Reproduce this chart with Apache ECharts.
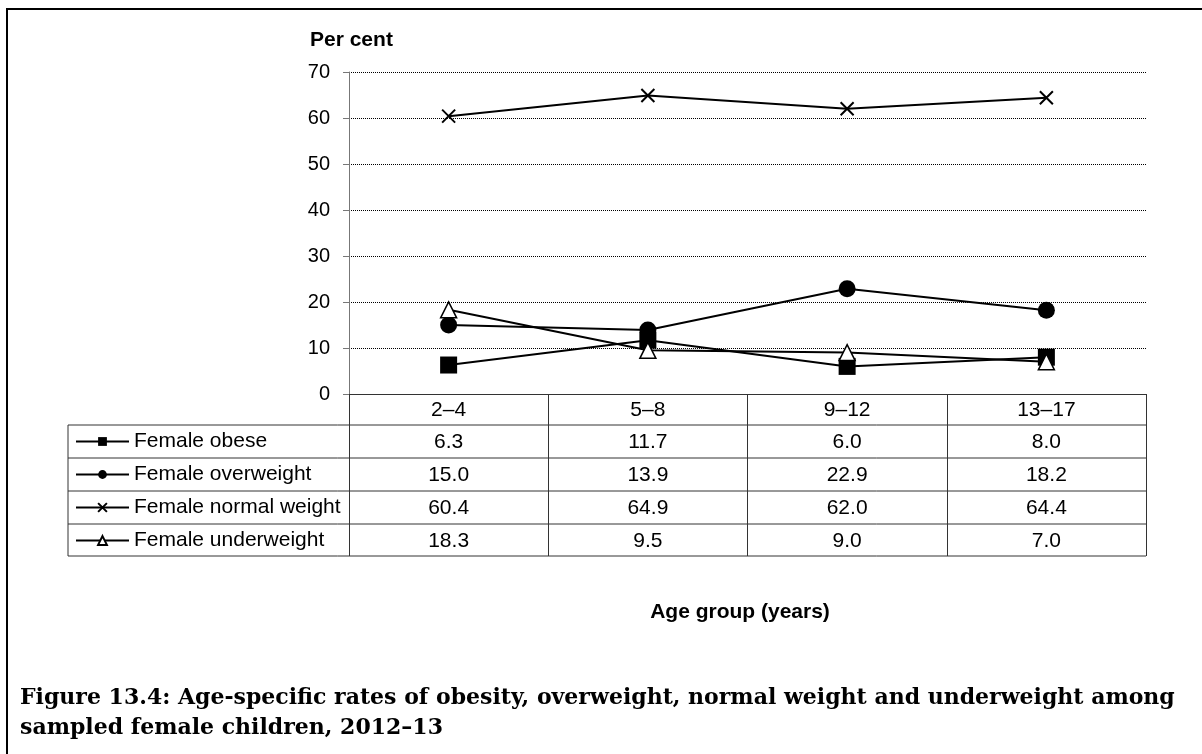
<!DOCTYPE html>
<html><head><meta charset="utf-8">
<script src="https://cdn.jsdelivr.net/npm/echarts@6/dist/echarts.min.js"></script>
<style>html,body{margin:0;padding:0;background:#fff}#c{width:1202px;height:754px}</style>
</head><body><div id="c"></div>
<script>
// ---- data ----
const categories = ['2–4', '5–8', '9–12', '13–17'];
const seriesNames = ['Female obese', 'Female overweight', 'Female normal weight', 'Female underweight'];
const obese = [6.3, 11.7, 6.0, 8.0];
const overweight = [15.0, 13.9, 22.9, 18.2];
const normalWeight = [60.4, 64.9, 62.0, 64.4];
const underweight = [18.3, 9.5, 9.0, 7.0];
const yTicks = [0, 10, 20, 30, 40, 50, 60, 70];
const yTitle = 'Per cent';
const xTitle = 'Age group (years)';
const captionLines = ['Figure 13.4: Age-specific rates of obesity, overweight, normal weight and underweight among',
                      'sampled female children, 2012–13'];

// ---- layout / style ----
const FONT = '"Liberation Sans", Arial, sans-serif';
const SERIF = '"DejaVu Serif", serif';
const FS = 21;
const seriesValues = [obese, overweight, normalWeight, underweight];
const symbols = ['rect', 'circle', 'path://M0,0L10,10M10,0L0,10', 'triangle'];
const symbolSizes = [17, 17, 13, 16];
const fills = ['#000', '#000', 'none', '#fff'];
const borderW = [0, 0, 2, 1.5];
const tableLeft = 68, rowLines = [425, 458, 491, 524, 556];

const chart = echarts.init(document.getElementById('c'));
const option = {
  animation: false,
  backgroundColor: '#fff',
  grid: { left: 349, right: 56, top: 72, bottom: 360 },
  xAxis: {
    type: 'category', data: categories, boundaryGap: true,
    axisLine: { lineStyle: { color: '#333', width: 1 } },
    axisTick: { show: true, interval: 0, length: rowLines[4] - 394, lineStyle: { color: '#333', width: 1 } },
    axisLabel: { interval: 0, margin: 6, fontSize: FS, color: '#000', fontFamily: FONT },
    splitLine: { show: false }
  },
  yAxis: {
    type: 'value', min: yTicks[0], max: yTicks[yTicks.length - 1], interval: yTicks[1] - yTicks[0],
    axisLine: { show: true, lineStyle: { color: '#777', width: 1 } },
    axisTick: { show: true, length: 6, lineStyle: { color: '#777' } },
    axisLabel: { margin: 19, fontSize: 20, color: '#000', fontFamily: FONT },
    splitLine: { show: true, lineStyle: { type: [1, 1], color: '#000', width: 1 } }
  },
  legend: {
    orient: 'vertical', left: 75, top: 441.5 - 10.5, padding: 0,
    itemWidth: 53, itemHeight: 11, itemGap: 12,
    textStyle: { fontSize: FS, color: '#000', fontFamily: FONT },
    data: seriesNames
  },
  series: seriesNames.map((n, i) => ({
    name: n, type: 'line', data: seriesValues[i],
    symbol: symbols[i], symbolSize: symbolSizes[i], showAllSymbol: true,
    lineStyle: { color: '#000', width: 2 },
    itemStyle: { color: fills[i], borderColor: '#000', borderWidth: borderW[i] },
    z: 2 + i
  }))
};
chart.setOption(option);

// ---- table, titles, frame ----
const g = [];
g.push({ type: 'rect', shape: { x: 7, y: 9, width: 1400, height: 1000 }, style: { fill: 'none', stroke: '#000', lineWidth: 2 }, silent: true });
const xRight = 1146;
rowLines.forEach(y => g.push({ type: 'line', shape: { x1: tableLeft, y1: y, x2: xRight, y2: y }, style: { stroke: '#333', lineWidth: 1 } }));
g.push({ type: 'line', shape: { x1: tableLeft, y1: rowLines[0], x2: tableLeft, y2: rowLines[4] }, style: { stroke: '#333', lineWidth: 1 } });
seriesValues.forEach((vals, r) => {
  vals.forEach((v, c) => {
    const x = chart.convertToPixel({ xAxisIndex: 0 }, categories[c]);
    g.push({ type: 'text', x: x, y: (rowLines[r] + rowLines[r + 1]) / 2 + 1,
      style: { text: v.toFixed(1), font: FS + 'px ' + FONT, fill: '#000', align: 'center', verticalAlign: 'middle' } });
  });
});
g.push({ type: 'text', x: 310, y: 40, style: { text: yTitle, font: 'bold ' + FS + 'px ' + FONT, fill: '#000', align: 'left', verticalAlign: 'middle' } });
g.push({ type: 'text', x: 740, y: 612, style: { text: xTitle, font: 'bold ' + FS + 'px ' + FONT, fill: '#000', align: 'center', verticalAlign: 'middle' } });
captionLines.forEach((t, i) => g.push({ type: 'text', x: 20, y: 698 + i * 30,
  style: { text: t, font: 'bold 22px ' + SERIF, fill: '#000', align: 'left', verticalAlign: 'middle' } }));
chart.setOption({ graphic: g });
</script></body></html>
